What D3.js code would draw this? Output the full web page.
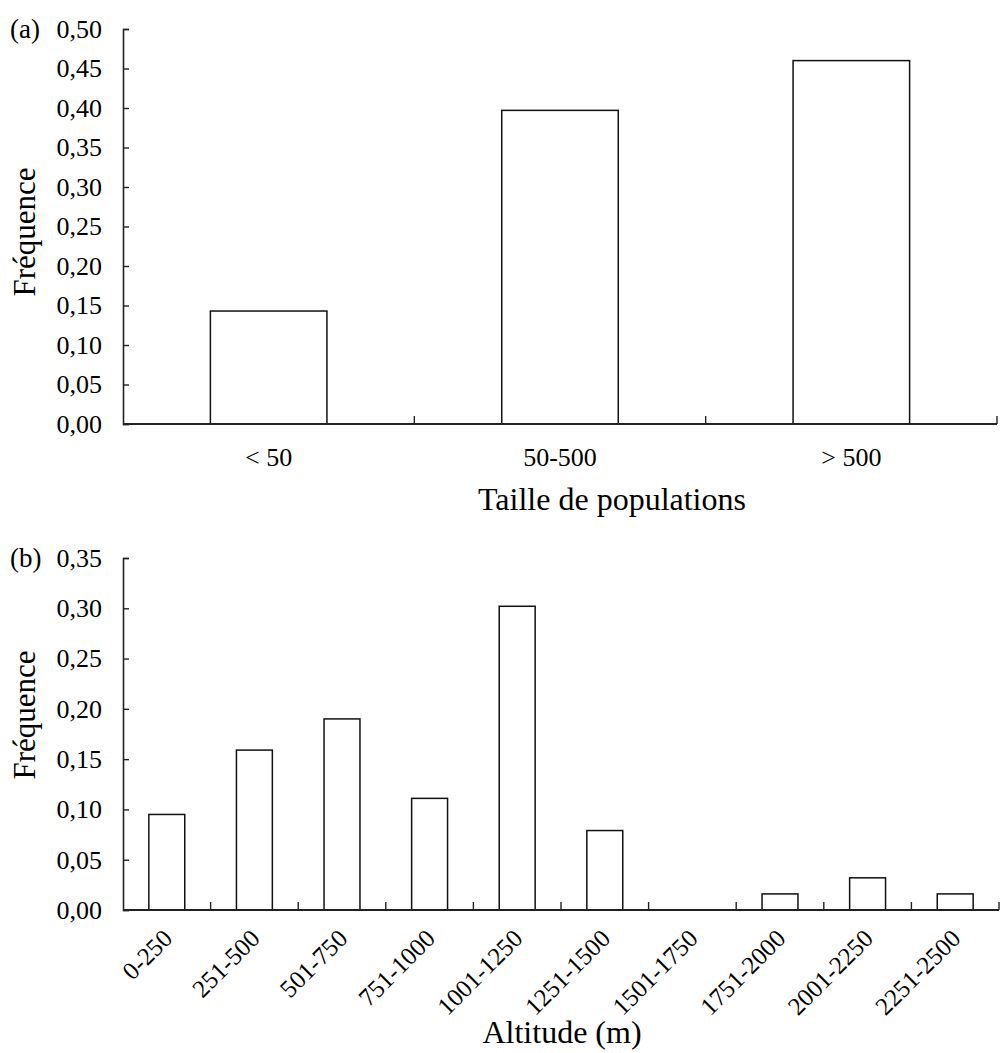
<!DOCTYPE html>
<html>
<head>
<meta charset="utf-8">
<script src="https://cdn.jsdelivr.net/npm/d3@7"></script>
<style>
  body { margin: 0; background: #fff; }
  svg text { fill: #000; }
</style>
</head>
<body>
<script>
// panel (a) : taille de populations
var sizeCats = ["< 50", "50-500", "> 500"];
var sizeFreq = [0.143, 0.397, 0.460];
var sizeTicks = [0, 0.05, 0.10, 0.15, 0.20, 0.25, 0.30, 0.35, 0.40, 0.45, 0.50];

// panel (b) : altitude
var altCats = ["0-250", "251-500", "501-750", "751-1000", "1001-1250",
               "1251-1500", "1501-1750", "1751-2000", "2001-2250", "2251-2500"];
var altFreq = [0.095, 0.159, 0.190, 0.111, 0.302, 0.079, 0, 0.016, 0.032, 0.016];
var altTicks = [0, 0.05, 0.10, 0.15, 0.20, 0.25, 0.30, 0.35];

var width = 1000, height = 1053;
// try every serif name that might be installed
var serif = 'Liberation Serif, Tinos, Times, Times New Roman, DejaVu Serif, Noto Serif, serif';

var svg = d3.select('body').append('svg')
    .attr('width', width)
    .attr('height', height)
    .attr('font-family', serif);

var fr = d3.formatLocale({decimal: ",", thousands: " ", grouping: [3], currency: ["", "€"]});
var fmt = fr.format(".2f");

// draws one panel; box = pixel frame of the plot area
function panel(cats, vals, ticks, box, opts) {
    var g = svg.append('g');

    var x = d3.scaleBand()
        .domain(cats)
        .range([box.left, box.right])
        .padding(0);

    var y = d3.scaleLinear()
        .domain([0, ticks[ticks.length - 1]])
        .range([box.bottom, box.top]);

    // bars
    var bw = x.bandwidth() * opts.barFrac;
    g.append('g').selectAll('rect')
        .data(vals)
        .join('rect')
        .attr('x', (d, i) => x(cats[i]) + (x.bandwidth() - bw) / 2)
        .attr('y', d => y(d))
        .attr('width', bw)
        .attr('height', d => y(0) - y(d))
        .attr('fill', '#fff')
        .attr('stroke', d => d > 0 ? '#111' : 'none')
        .attr('stroke-width', 1.5);

    // y axis, ticks pointing inward
    var ya = g.append('g')
        .attr('transform', 'translate(' + box.left + ',0)')
        .call(d3.axisLeft(y)
            .tickValues(ticks)
            .tickFormat(fmt)
            .tickSizeInner(-6)
            .tickSizeOuter(-6)
            .tickPadding(21));
    ya.attr('font-family', serif);
    ya.select('.domain').attr('stroke', '#222').attr('stroke-width', 1.6);
    ya.selectAll('.tick line').attr('stroke', '#222').attr('stroke-width', 1.4);
    ya.selectAll('.tick text')
        .attr('font-size', 26)
        .attr('fill', '#000');

    // x axis: baseline + small upward ticks between categories
    g.append('line')
        .attr('x1', box.left).attr('x2', box.right)
        .attr('y1', y(0)).attr('y2', y(0))
        .attr('stroke', '#222').attr('stroke-width', 1.8);

    var bounds = cats.slice(1).map(c => x(c)).concat([box.right]);
    g.append('g').selectAll('line')
        .data(bounds)
        .join('line')
        .attr('x1', d => d).attr('x2', d => d)
        .attr('y1', y(0)).attr('y2', y(0) - 8)
        .attr('stroke', '#222').attr('stroke-width', 1.4);

    // category labels
    var lab = g.append('g').selectAll('text')
        .data(cats)
        .join('text')
        .attr('font-size', opts.catSize)
        .text(d => d);
    if (opts.rotate) {
        lab.attr('text-anchor', 'end')
            .attr('transform', d => 'translate(' + (x(d) + x.bandwidth() / 2 + 7) + ',' + (y(0) + 30) + ') rotate(-45)');
    } else {
        lab.attr('text-anchor', 'middle')
            .attr('x', d => x(d) + x.bandwidth() / 2)
            .attr('y', y(0) + 42);
    }

    // titles
    g.append('text')
        .attr('transform', 'translate(35,' + opts.yTitleY + ') rotate(-90)')
        .attr('text-anchor', 'middle')
        .attr('font-size', 31)
        .text('Fréquence');

    g.append('text')
        .attr('x', opts.xTitleX).attr('y', opts.xTitleY)
        .attr('text-anchor', 'middle')
        .attr('font-size', 32)
        .text(opts.xTitle);

    g.append('text')
        .attr('x', 10).attr('y', box.top + 9)
        .attr('font-size', 27)
        .text(opts.tag);
}

panel(sizeCats, sizeFreq, sizeTicks,
    {left: 123, right: 997, top: 29, bottom: 424},
    {barFrac: 0.4, catSize: 26, rotate: false, yTitleY: 232,
     xTitle: 'Taille de populations', xTitleX: 612, xTitleY: 510, tag: '(a)'});

panel(altCats, altFreq, altTicks,
    {left: 123, right: 999, top: 558, bottom: 910},
    {barFrac: 0.41, catSize: 25, rotate: true, yTitleY: 715,
     xTitle: 'Altitude (m)', xTitleX: 562, xTitleY: 1043, tag: '(b)'});
</script>
</body>
</html>
